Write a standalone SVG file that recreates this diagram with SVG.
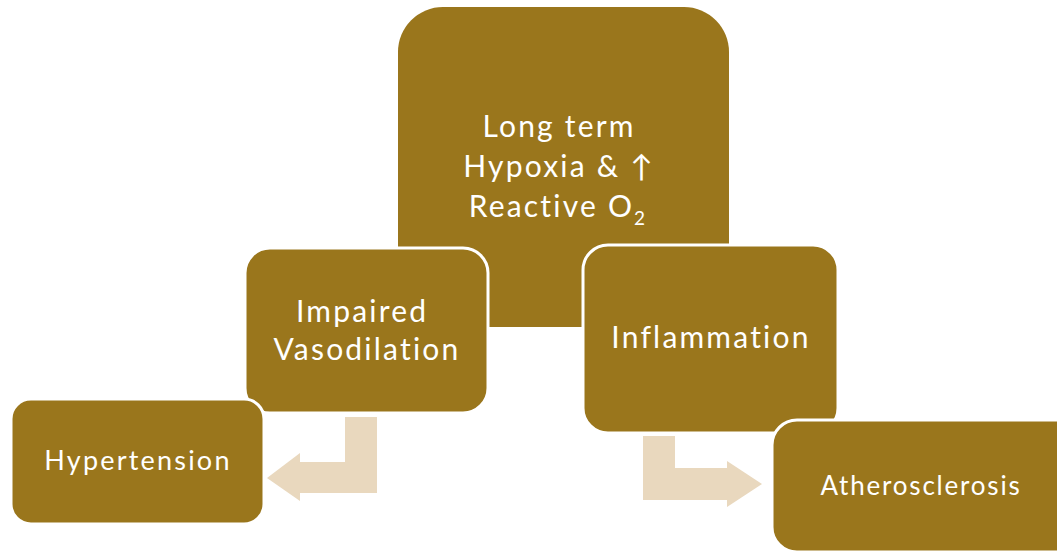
<svg xmlns="http://www.w3.org/2000/svg" width="1057" height="551" viewBox="0 0 1057 551">
  <style>
    .box { fill: #9A761C; stroke: #FFFFFF; stroke-width: 3; }
    .top { fill: #9A761C; }
    .lbl { fill: #FFFFFF; font-family: Lato, "Liberation Sans", sans-serif; text-anchor: middle; letter-spacing: 2.2px; }
    .arrow { fill: #E9D8BE; }
  </style>
  <rect x="0" y="0" width="1057" height="551" fill="#FFFFFF"/>

  <g id="node-hypoxia">
    <rect class="top" x="398" y="7" width="331" height="320" rx="45" ry="45"/>
    <text class="lbl" font-size="30">
      <tspan x="564" y="137">Long term</tspan>
      <tspan x="564" y="177">Hypoxia &amp; ↑</tspan>
      <tspan x="558" y="217">Reactive O<tspan font-size="19" dy="8">2</tspan></tspan>
    </text>
  </g>

  <g id="connectors">
    <!-- bent arrow: Impaired Vasodilation to Hypertension -->
    <path class="arrow" d="M345,417 H377 V493 H300 V501 L267,478 L300,453 V462 H345 Z"/>
    <!-- bent arrow: Inflammation to Atherosclerosis -->
    <path class="arrow" d="M643,436 H675 V468 H727 V461 L762,484 L727,507 V500 H643 Z"/>
  </g>

  <g id="node-vasodilation">
    <rect class="box" x="245" y="248" width="243" height="165" rx="25" ry="25"/>
    <text class="lbl" font-size="30">
      <tspan x="367" y="322">Impaired</tspan>
      <tspan x="367" y="360">Vasodilation</tspan>
    </text>
  </g>

  <g id="node-inflammation">
    <rect class="box" x="583" y="245" width="255" height="188" rx="25" ry="25"/>
    <text class="lbl" font-size="30" x="711" y="348">Inflammation</text>
  </g>

  <g id="node-hypertension">
    <rect class="box" x="11" y="399" width="253" height="125" rx="20" ry="20"/>
    <text class="lbl" font-size="27" x="138" y="470">Hypertension</text>
  </g>

  <g id="node-atherosclerosis">
    <rect class="box" x="772" y="420" width="310" height="132" rx="25" ry="25"/>
    <text class="lbl" font-size="26" x="921" y="495" style="letter-spacing:1.8px">Atherosclerosis</text>
  </g>
</svg>
